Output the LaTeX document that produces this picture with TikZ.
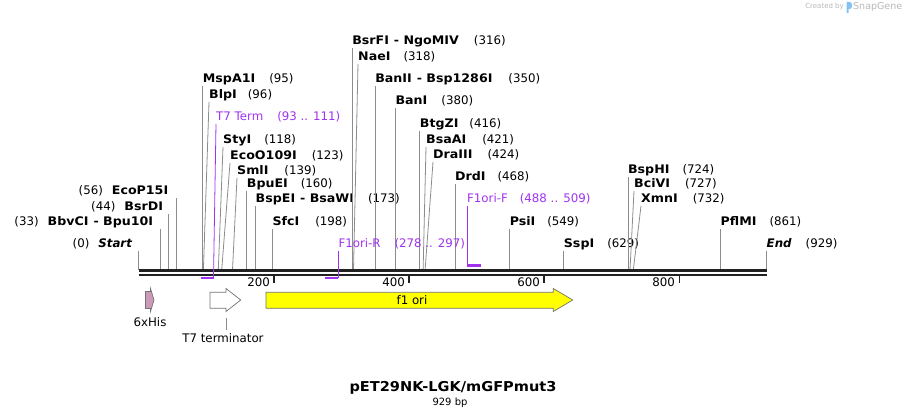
\documentclass[tikz,border=0pt]{standalone}
\usepackage{fontspec}
\setmainfont{DejaVu Sans}[BoldFeatures={FakeStretch=1.07}]
\usetikzlibrary{positioning}
\definecolor{mainBlack}{gray}{0.13}
\definecolor{cutGray}{gray}{0.55}
\definecolor{featGray}{gray}{0.45}
\definecolor{primerPurple}{RGB}{160,50,240}
\definecolor{hisPink}{RGB}{204,153,187}
\definecolor{oriYellow}{RGB}{255,255,0}
\definecolor{markGray}{gray}{0.72}
\definecolor{markBlue}{RGB}{130,195,240}

\begin{document}
\begin{tikzpicture}[x=1pt, y=-1pt, >=stealth,
    cutline/.style={cutGray, line width=0.8pt},
    enzR/.style={anchor=south west, inner xsep=0pt, inner ysep=1pt, text height=9pt, text depth=2pt, font=\fontsize{11.8}{13}\selectfont},
    enzL/.style={enzR, anchor=south east, inner xsep=6pt},
    primer/.style={primerPurple, line width=0.8pt},
    primerbar/.style={primerPurple, line width=2.5pt},
    feat/.style={draw=featGray, line width=0.7pt, line join=miter},
    lbl/.style={font=\fontsize{11.8}{13}\selectfont},
  ]
    \useasboundingbox (0,0) rectangle (905,419);

    % left side sites
    \node[enzL, inner xsep=6pt] (seqStart) at (138.5,251) {(0)\hspace{9pt}\textbf{\textit{Start}}};
    \node[enzL, inner xsep=7.5pt] (bbvCI) at (160.8,229) {(33)\hspace{9pt}\textbf{BbvCI\hspace{5pt}- Bpu10I}};
    \node[enzL, inner xsep=5pt] (bsrDI) at (168.2,214) {(44)\hspace{9pt}\textbf{BsrDI}};
    \node[enzL, inner xsep=8pt] (ecoP15I) at (176.4,198) {(56)\hspace{9pt}\textbf{EcoP15I}};
    \draw[cutline] (138.5,270) coordinate (s0) -- (seqStart.south east);
    \draw[cutline] (160.8,270) coordinate (s33) -- (bbvCI.south east);
    \draw[cutline] (168.2,270) coordinate (s44) -- (bsrDI.south east);
    \draw[cutline] (176.4,270) coordinate (s56) -- (ecoP15I.south east);

    % sites 95 .. 198
    \node[enzR] (mspA1I) at (202.7,86) {\textbf{MspA1I}\hspace{14pt}(95)};
    \node[enzR] (blpI) at (209,102) {\textbf{BlpI}\hspace{11pt}(96)};
    \node[enzR] (styI) at (223,147) {\textbf{StyI}\hspace{13pt}(118)};
    \node[enzR] (ecoO109I) at (230,163) {\textbf{EcoO109I}\hspace{15pt}(123)};
    \node[enzR] (smlI) at (237,178) {\textbf{SmlI}\hspace{16pt}(139)};
    \node[enzR] (bpuEI) at (246.7,191) {\textbf{BpuEI}\hspace{13pt}(160)};
    \node[enzR] (bspEI) at (255.5,206) {\textbf{BspEI\hspace{5pt}- BsaWI}\hspace{14pt}(173)};
    \node[enzR] (sfcI) at (272.4,229) {\textbf{SfcI}\hspace{16pt}(198)};
    \draw[cutline] (202.7,270) coordinate (s95) -- (mspA1I.south west);
    \draw[cutline] (203.4,270) coordinate (s96) -- (blpI.south west);
    \draw[cutline] (218.3,270) coordinate (s118) -- (styI.south west);
    \draw[cutline] (221.7,270) coordinate (s123) -- (ecoO109I.south west);
    \draw[cutline] (232.5,270) coordinate (s139) -- (smlI.south west);
    \draw[cutline] (246.7,270) coordinate (s160) -- (bpuEI.south west);
    \draw[cutline] (255.5,270) coordinate (s173) -- (bspEI.south west);
    \draw[cutline] (272.4,270) coordinate (s198) -- (sfcI.south west);

    % sites 316 .. 468
    \node[enzR] (bsrFI) at (352.1,48) {\textbf{BsrFI\hspace{5pt}- NgoMIV}\hspace{15pt}(316)};
    \node[enzR] (naeI) at (358,64) {\textbf{NaeI}\hspace{13pt}(318)};
    \node[enzR] (banII) at (375.1,86) {\textbf{BanII\hspace{5pt}- Bsp1286I}\hspace{16pt}(350)};
    \node[enzR] (banI) at (395.4,108) {\textbf{BanI}\hspace{14pt}(380)};
    \node[enzR] (btgZI) at (419.7,131) {\textbf{BtgZI}\hspace{11pt}(416)};
    \node[enzR] (bsaAI) at (426,147) {\textbf{BsaAI}\hspace{16pt}(421)};
    \node[enzR] (draIII) at (433,162) {\textbf{DraIII}\hspace{15pt}(424)};
    \node[enzR] (drdI) at (454.9,184) {\textbf{DrdI}\hspace{12pt}(468)};
    \draw[cutline] (352.1,270) coordinate (s316) -- (bsrFI.south west);
    \draw[cutline] (353.5,270) coordinate (s318) -- (naeI.south west);
    \draw[cutline] (375.1,270) coordinate (s350) -- (banII.south west);
    \draw[cutline] (395.4,270) coordinate (s380) -- (banI.south west);
    \draw[cutline] (419.7,270) coordinate (s416) -- (btgZI.south west);
    \draw[cutline] (423.1,270) coordinate (s421) -- (bsaAI.south west);
    \draw[cutline] (425.1,270) coordinate (s424) -- (draIII.south west);
    \draw[cutline] (454.9,270) coordinate (s468) -- (drdI.south west);

    % sites 549 .. 929
    \node[enzR] (psiI) at (509.6,229) {\textbf{PsiI}\hspace{12pt}(549)};
    \node[enzR] (sspI) at (563.7,251) {\textbf{SspI}\hspace{13pt}(629)};
    \node[enzR] (bspHI) at (627.9,177) {\textbf{BspHI}\hspace{13pt}(724)};
    \node[enzR] (bciVI) at (634,191) {\textbf{BciVI}\hspace{15pt}(727)};
    \node[enzR] (xmnI) at (641,206) {\textbf{XmnI}\hspace{15pt}(732)};
    \node[enzR] (pflMI) at (720.5,229) {\textbf{PflMI}\hspace{13pt}(861)};
    \node[enzR] (seqEnd) at (766.5,251) {\textbf{\textit{End}}\hspace{14pt}(929)};
    \draw[cutline] (509.6,270) coordinate (s549) -- (psiI.south west);
    \draw[cutline] (563.7,270) coordinate (s629) -- (sspI.south west);
    \draw[cutline] (627.9,270) coordinate (s724) -- (bspHI.south west);
    \draw[cutline] (630.0,270) coordinate (s727) -- (bciVI.south west);
    \draw[cutline] (633.3,270) coordinate (s732) -- (xmnI.south west);
    \draw[cutline] (720.5,270) coordinate (s861) -- (pflMI.south west);
    \draw[cutline] (766.5,270) coordinate (s929) -- (seqEnd.south west);

    % backbone
    \draw[mainBlack, line width=2.6pt] (138.5,270.5) -- (766.5,270.5);
    \draw[mainBlack, line width=2.6pt] (138.5,275) -- (766.5,275);

    % ruler
    \draw[mainBlack, line width=1.6pt] (273.7,276) -- (273.7,283);
    \draw[mainBlack, line width=1.6pt] (408.9,276) -- (408.9,283);
    \draw[mainBlack, line width=1.6pt] (544.1,276) -- (544.1,283);
    \draw[mainBlack, line width=1.6pt] (679.3,276) -- (679.3,283);
    \node[lbl, anchor=east, inner sep=0pt] (r200) at (270,282) {200};
    \node[lbl, anchor=east, inner sep=0pt] (r400) at (405,282) {400};
    \node[lbl, anchor=east, inner sep=0pt] (r600) at (540,282) {600};
    \node[lbl, anchor=east, inner sep=0pt] (r800) at (675,282) {800};

    % primers
    \node[enzR, primerPurple] (t7term) at (216,124) {T7 Term\hspace{14pt}(93 .. 111)};
    \draw[primerbar] (201.4,278) -- (213.5,278) coordinate (t7bar);
    \draw[primer] (t7bar) -- (t7term.south west);
    \node[enzR, primerPurple] (f1oriR) at (338.3,251) {F1ori-R\hspace{14pt}(278 .. 297)};
    \draw[primerbar] (325,278) -- (338.3,278) coordinate (f1Rbar);
    \draw[primer] (f1Rbar) -- (f1oriR.south west);
    \node[enzR, primerPurple] (f1oriF) at (467,206) {F1ori-F\hspace{12pt}(488 .. 509)};
    \draw[primerbar] (481,265.5) -- (467,265.5) coordinate (f1Fbar);
    \draw[primer] (f1Fbar) -- (f1oriF.south west);

    % features
    \draw[feat, fill=hisPink] (145.5,291.5) -- (150.5,291.5) -- (150.5,288.5) -- (154,300) -- (150.5,311.5) -- (150.5,308.5) -- (145.5,308.5) -- cycle;
    \node[lbl] (hisLbl) at (150,322) {6xHis};
    \draw[feat, fill=white] (210,292.3) -- (226,292.3) -- (226,288.5) -- (240.7,300) -- (226,311.5) -- (226,308.3) -- (210,308.3) -- cycle;
    \coordinate (t7arr) at (226,318.5);
    \node[lbl] (t7lbl) at (223,338) {T7 terminator};
    \draw[cutline] (t7arr) -- (t7lbl.north -| t7arr);
    \draw[feat, fill=oriYellow] (266,292.3) -- (553.3,292.3) -- (553.3,288.5) -- (572.7,300) -- (553.3,311.5) -- (553.3,308.3) -- (266,308.3) -- cycle;
    \node[lbl] (oriLbl) at (412,300) {f1 ori};

    % title
    \node[font=\bfseries\fontsize{13.6}{16}\selectfont] (title) at (453,388) {pET29NK-LGK/mGFPmut3};
    \node[font=\fontsize{10}{12}\selectfont] (size) at (450,403) {929 bp};

    % watermark
    \node[markGray, anchor=east, inner sep=0pt, font=\fontsize{7}{8}\selectfont] (made) at (844,7) {Created by};
    \fill[markBlue] (846.5,2) -- (850,2) to[out=0, in=0] (850,9) -- (848.5,9) -- (848.5,13) -- (846.5,13) -- cycle;
    \node[markGray, anchor=west, inner sep=0pt, font=\fontsize{9.5}{11}\selectfont] (snap) at (853,7) {SnapGene};
\end{tikzpicture}
\end{document}
